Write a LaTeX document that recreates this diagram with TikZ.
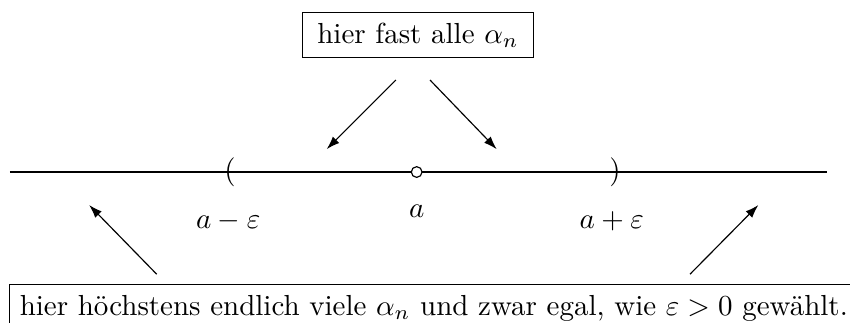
\documentclass[tikz,border=0pt]{standalone}
\usepackage{amsmath,amssymb}
\usepackage{tikz}
\usetikzlibrary{arrows.meta,positioning}

\begin{document}
\begin{tikzpicture}[x=1.01cm, y=1.01cm,
  lbox/.style={rectangle, draw=black, inner xsep=5pt, inner ysep=3.6pt},
  arr/.style={-{Latex[length=1.6mm,width=1.1mm]}},
  lab/.style={inner sep=1pt},
]
\useasboundingbox (0,0) rectangle (10.2,-3.864);
\clip (0,0) rectangle (10.2,-3.864);

%% Top box
\node[lbox] (fast) at (5.016,-0.42) {hier fast alle $\alpha_n$};

%% Number line with interval and centre
\coordinate (lft) at (0.12,-2.064);
\coordinate (rgt) at (9.92,-2.064);
\draw (lft) -- (rgt);
\node[inner sep=0pt] (lpar) at (2.76,-2.064) {$($};
\node[inner sep=0pt] (rpar) at (7.38,-2.064) {$)$};
\node[circle, draw, inner sep=0pt, minimum size=0.13cm, fill=white] (ctr) at (5.0,-2.064) {};

%% Labels below the line
\node[lab] (lminus) at (2.74,-2.65) {$a-\varepsilon$};
\node[lab] (la) at (5.0,-2.53) {$a$};
\node[lab] (lplus) at (7.34,-2.65) {$a+\varepsilon$};

%% Bottom box (runs out of the picture on the right)
\node[lbox, inner xsep=3.6pt, anchor=north west] (wenig) at (0.105,-3.408)
  {hier höchstens endlich viele $\alpha_n$ und zwar egal, wie $\varepsilon>0$ gewählt.};

%% Arrows from the top box into the interval
\coordinate (t1s) at (4.75,-0.96);
\coordinate (t1e) at (3.92,-1.79);
\coordinate (t2s) at (5.16,-0.96);
\coordinate (t2e) at (5.96,-1.79);
\draw[arr] (t1s) -- (t1e);
\draw[arr] (t2s) -- (t2e);

%% Arrows from the bottom box to the outside parts
\coordinate (b1s) at (1.88,-3.29);
\coordinate (b1e) at (1.07,-2.46);
\coordinate (b2s) at (8.28,-3.29);
\coordinate (b2e) at (9.10,-2.46);
\draw[arr] (b1s) -- (b1e);
\draw[arr] (b2s) -- (b2e);

\end{tikzpicture}
\end{document}
